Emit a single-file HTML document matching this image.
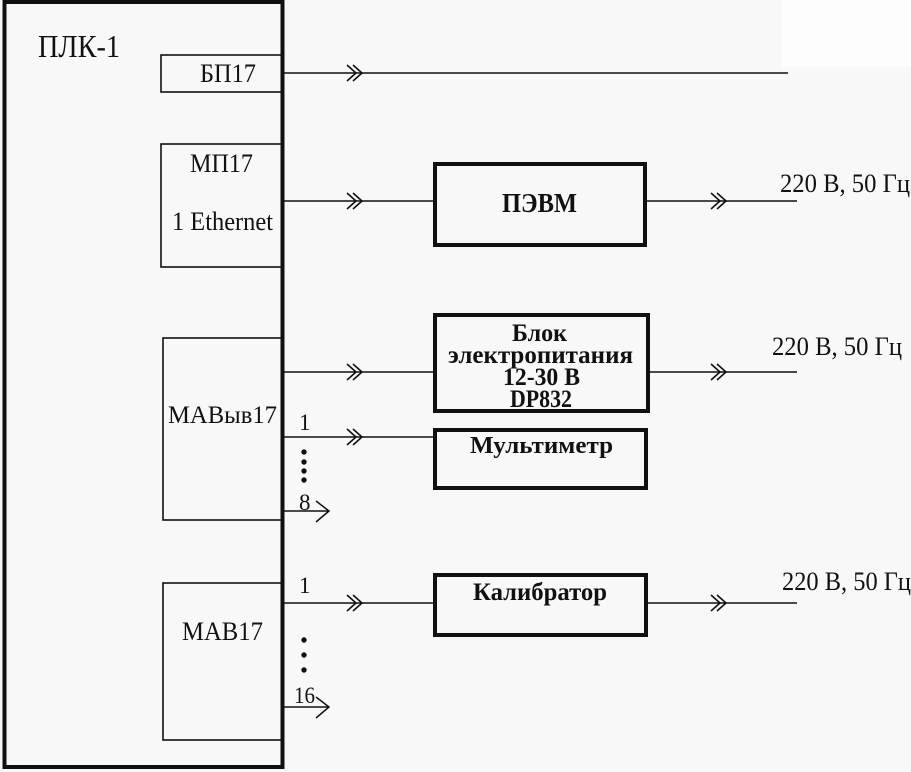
<!DOCTYPE html>
<html>
<head>
<meta charset="utf-8">
<style>
html,body{margin:0;padding:0;background:#f8f8f8;}
svg{display:block;}
text{font-family:"Liberation Serif","Noto Serif CJK SC",serif;fill:#111;}
.b{font-weight:bold;}
</style>
</head>
<body>
<svg width="911" height="772" viewBox="0 0 911 772" xmlns="http://www.w3.org/2000/svg">
<rect x="0" y="0" width="911" height="772" fill="#f8f8f8"/>
<rect x="782" y="0" width="129" height="67" fill="#fdfdfd"/>

<g fill="none" stroke="#111">
  <!-- outer PLC box -->
  <rect x="4.5" y="2" width="278" height="765" stroke-width="4"/>
  <!-- inner modules -->
  <rect x="161" y="55" width="121" height="37" stroke-width="1.6"/>
  <rect x="161" y="144" width="121" height="123" stroke-width="1.6"/>
  <rect x="163" y="338" width="119" height="182" stroke-width="1.6"/>
  <rect x="163" y="583" width="119" height="157" stroke-width="1.6"/>
  <!-- right devices -->
  <rect x="435" y="164" width="210" height="81" stroke-width="4"/>
  <rect x="435" y="315" width="213" height="96" stroke-width="4"/>
  <rect x="435" y="430" width="211" height="58" stroke-width="4"/>
  <rect x="435" y="575" width="211" height="60" stroke-width="4"/>

  <!-- lines -->
  <g stroke-width="1.5">
    <line x1="284" y1="73" x2="788" y2="73"/>
    <line x1="284" y1="201" x2="433" y2="201"/>
    <line x1="647" y1="201" x2="797" y2="201"/>
    <line x1="284" y1="372" x2="433" y2="372"/>
    <line x1="650" y1="372" x2="797" y2="372"/>
    <line x1="284" y1="437" x2="433" y2="437"/>
    <line x1="284" y1="511" x2="328" y2="511"/>
    <line x1="284" y1="603" x2="433" y2="603"/>
    <line x1="647" y1="603" x2="797" y2="603"/>
    <line x1="284" y1="707" x2="328" y2="707"/>
    <!-- single arrowheads -->
    <polyline points="316,501 329,511 316,522"/>
    <polyline points="316,697 329,707 316,718"/>
  </g>

  <!-- double chevrons -->
  <g stroke-width="1.6">
    <polyline points="347,65 356,73 347,81"/><polyline points="353,65 362,73 353,81"/>
    <polyline points="347,193 356,201 347,209"/><polyline points="353,193 362,201 353,209"/>
    <polyline points="711,193 720,201 711,209"/><polyline points="717,193 726,201 717,209"/>
    <polyline points="347,364 356,372 347,380"/><polyline points="353,364 362,372 353,380"/>
    <polyline points="711,364 720,372 711,380"/><polyline points="717,364 726,372 717,380"/>
    <polyline points="347,429 356,437 347,445"/><polyline points="353,429 362,437 353,445"/>
    <polyline points="347,595 356,603 347,611"/><polyline points="353,595 362,603 353,611"/>
    <polyline points="711,595 720,603 711,611"/><polyline points="717,595 726,603 717,611"/>
  </g>
</g>

<!-- dots -->
<g fill="#111">
  <circle cx="304" cy="452" r="2.7"/>
  <circle cx="304" cy="462" r="2.7"/>
  <circle cx="304" cy="471" r="2.7"/>
  <circle cx="304" cy="480" r="2.7"/>
  <circle cx="304" cy="640" r="2.7"/>
  <circle cx="304" cy="655" r="2.7"/>
  <circle cx="304" cy="670" r="2.7"/>
</g>

<!-- texts -->
<text x="38" y="57" font-size="32" textLength="82" lengthAdjust="spacingAndGlyphs">ПЛК-1</text>
<text x="200" y="82" font-size="26" textLength="56" lengthAdjust="spacingAndGlyphs">БП17</text>
<text x="190" y="172" font-size="26" textLength="63" lengthAdjust="spacingAndGlyphs">МП17</text>
<text x="172" y="230" font-size="26" textLength="101" lengthAdjust="spacingAndGlyphs">1 Ethernet</text>
<text x="168" y="423" font-size="25" textLength="109" lengthAdjust="spacingAndGlyphs">МАВыв17</text>
<text x="182" y="640" font-size="26" textLength="81" lengthAdjust="spacingAndGlyphs">МАВ17</text>

<text x="299" y="430" font-size="23">1</text>
<text x="299" y="510" font-size="23">8</text>
<text x="299" y="593" font-size="23">1</text>
<text x="294" y="703" font-size="23" textLength="21" lengthAdjust="spacingAndGlyphs">16</text>

<text class="b" x="502" y="212" font-size="27" textLength="75" lengthAdjust="spacingAndGlyphs">ПЭВМ</text>
<text class="b" x="512" y="341" font-size="25" textLength="55" lengthAdjust="spacingAndGlyphs">Блок</text>
<text class="b" x="448" y="363" font-size="25" textLength="185" lengthAdjust="spacingAndGlyphs">электропитания</text>
<text class="b" x="503" y="385" font-size="25" textLength="77" lengthAdjust="spacingAndGlyphs">12-30 В</text>
<text class="b" x="510" y="407" font-size="25" textLength="62" lengthAdjust="spacingAndGlyphs">DP832</text>
<text class="b" x="470" y="453" font-size="24" textLength="143" lengthAdjust="spacingAndGlyphs">Мультиметр</text>
<text class="b" x="473" y="600" font-size="25" textLength="134" lengthAdjust="spacingAndGlyphs">Калибратор</text>

<text x="780" y="192" font-size="26" textLength="130" lengthAdjust="spacingAndGlyphs">220 В, 50 Гц</text>
<text x="772" y="355" font-size="26" textLength="130" lengthAdjust="spacingAndGlyphs">220 В, 50 Гц</text>
<text x="782" y="590" font-size="26" textLength="129" lengthAdjust="spacingAndGlyphs">220 В, 50 Гц</text>
</svg>
</body>
</html>
